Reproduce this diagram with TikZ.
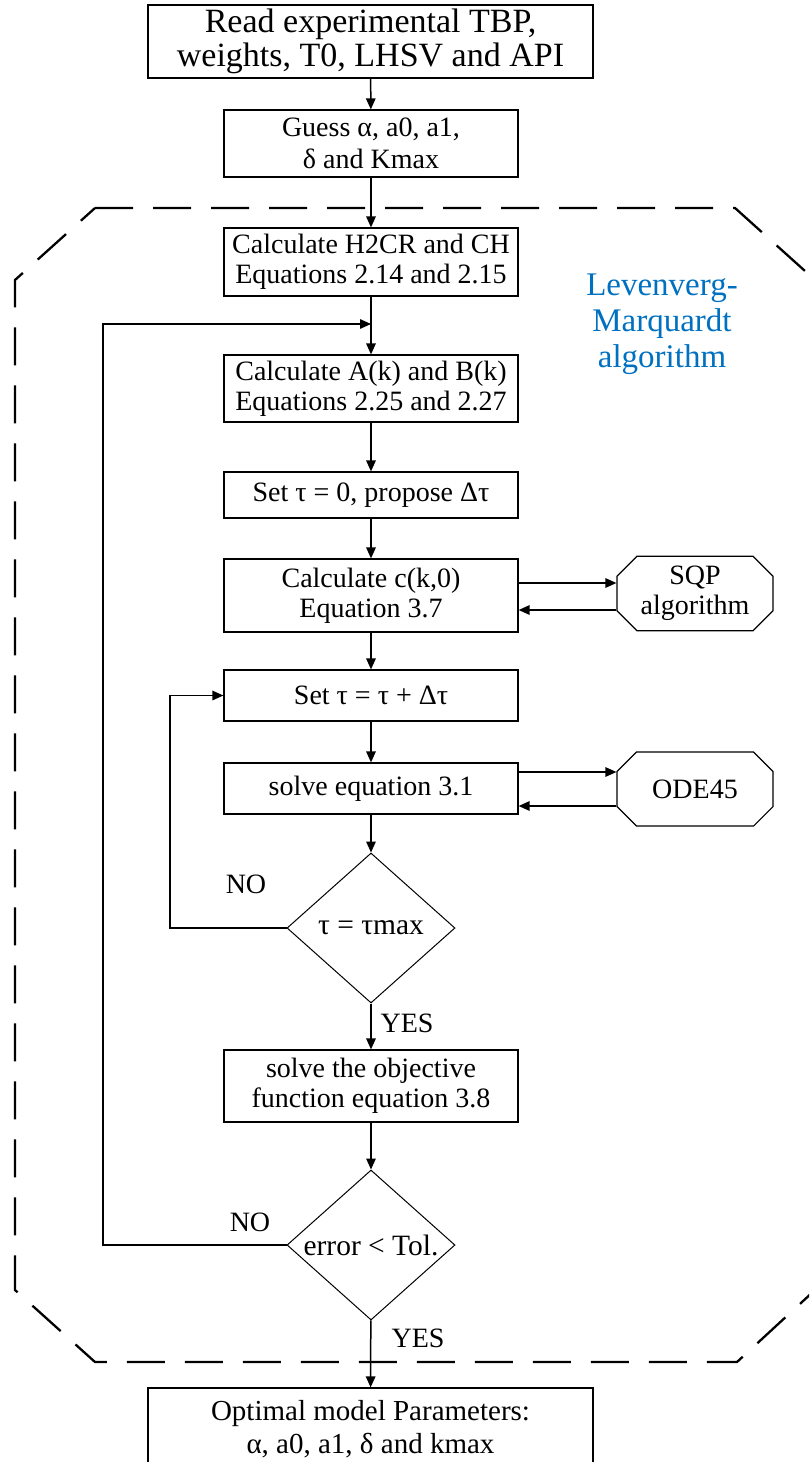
\documentclass[tikz,border=0pt]{standalone}
\usepackage{fontspec}
\setmainfont{Liberation Serif}
\usetikzlibrary{shapes.geometric,shapes.misc,arrows.meta}
\definecolor{lmblue}{RGB}{0,112,192}
\tikzset{
  box/.style={draw, line width=1.2pt, rectangle, inner sep=0pt, align=center,
    minimum width=294pt, font=\fontsize{28}{30}\selectfont},
  bigbox/.style={draw, line width=1.2pt, rectangle, inner sep=0pt, align=center,
    minimum width=445pt},
  decision/.style={draw, line width=1pt, diamond, inner sep=0pt, aspect=1.1,
    minimum width=168pt, minimum height=150pt, font=\fontsize{29.5}{30}\selectfont},
  octo/.style={draw, line width=1.2pt, chamfered rectangle, chamfered rectangle xsep=10pt,
    chamfered rectangle ysep=10pt, inner sep=0pt, align=center,
    minimum width=156pt, font=\fontsize{28}{30}\selectfont},
  arr/.style={line width=1.5pt, -{Triangle[length=11pt,width=9.5pt]}},
  ln/.style={line width=1.5pt},
  lbl/.style={font=\fontsize{28}{30}\selectfont, inner sep=0pt},
  dashpat/.style={line width=2.3pt, dash pattern=on 38pt off 20pt},
}
\begin{document}
\begin{tikzpicture}[x=1pt,y=-1pt]
\useasboundingbox (0,0) rectangle (809,1462);
\clip (0,0) rectangle (809,1462);

% dashed region
\draw[dashpat] (95,208) -- (735,208) -- (815,280) -- (815,1290) -- (737,1362)
  -- (95,1362) -- (15,1290) -- (15,280) -- cycle;

\node[font=\fontsize{33}{36}\selectfont, text=lmblue, align=center, inner sep=0pt]
  (lm) at (662,324) {Levenverg-\\Marquardt\\algorithm};

\node[bigbox, minimum height=73pt, font=\fontsize{34}{34}\selectfont] (b1) at (370.5,41.5)
  {Read experimental TBP,\\weights, T0, LHSV and API};
\node[box, minimum height=67pt, font=\fontsize{28}{32}\selectfont] (b2) at (371,143.5) {Guess α, a0, a1,\\δ and Kmax};
\node[box, minimum height=68pt] (b3) at (371,262) {Calculate H2CR and CH\\Equations 2.14 and 2.15};
\node[box, minimum height=67pt] (b4) at (371,388.5) {Calculate A(k) and B(k)\\Equations 2.25 and 2.27};
\node[box, minimum height=46pt] (b5) at (371,495) {Set τ = 0, propose Δτ};
\node[box, minimum height=73pt] (b6) at (371,595.5) {Calculate c(k,0)\\Equation 3.7};
\node[box, minimum height=51pt] (b7) at (371,695.5) {Set τ = τ + Δτ};
\node[box, minimum height=51pt] (b8) at (371,788.5) {solve equation 3.1};
\node[decision] (d1) at (371,928) {τ = τmax};
\node[box, minimum height=72pt] (b9) at (371,1086) {solve the objective\\function equation 3.8};
\node[decision] (d2) at (371,1245) {error < Tol.};
\node[bigbox, minimum height=82pt, font=\fontsize{29}{33}\selectfont] (b10) at (370.5,1429)
  {Optimal model Parameters:\\α, a0, a1, δ and kmax};

\node[octo, minimum height=73pt] (sqp) at (695,593.5) {SQP\\algorithm};
\node[octo, minimum height=74pt] (ode) at (695,789) {ODE45};

\node[lbl] (no1) at (246,884) {NO};
\node[lbl] (yes1) at (407,1023) {YES};
\node[lbl] (no2) at (250,1222) {NO};
\node[lbl] (yes2) at (418,1338) {YES};

\coordinate (j1) at (371,324);
\coordinate (l1) at (103,324);
\coordinate (l2) at (170,695.5);

\draw[arr] (b1) -- (b2);
\draw[arr] (b2) -- (b3);
\draw[ln] (b3.south) -- (j1);
\draw[arr] (j1) -- (b4);
\draw[arr] (b4) -- (b5);
\draw[arr] (b5) -- (b6);
\draw[arr] (b6) -- (b7);
\draw[arr] (b7) -- (b8);
\draw[arr] (b8) -- (d1);
\draw[arr] (d1) -- (b9);
\draw[arr] (b9) -- (d2);
\draw[arr] (d2) -- (b10);

\draw[arr] (b6.east |- 0,583) -- (sqp.west |- 0,583);
\draw[arr] (sqp.west |- 0,610) -- (b6.east |- 0,610);
\draw[arr] (b8.east |- 0,772) -- (ode.west |- 0,772);
\draw[arr] (ode.west |- 0,806) -- (b8.east |- 0,806);

\draw[arr] (d1.west) -| (l2) -- (b7.west);
\draw[arr] (d2.west) -| (l1) -- (j1);
\end{tikzpicture}
\end{document}
